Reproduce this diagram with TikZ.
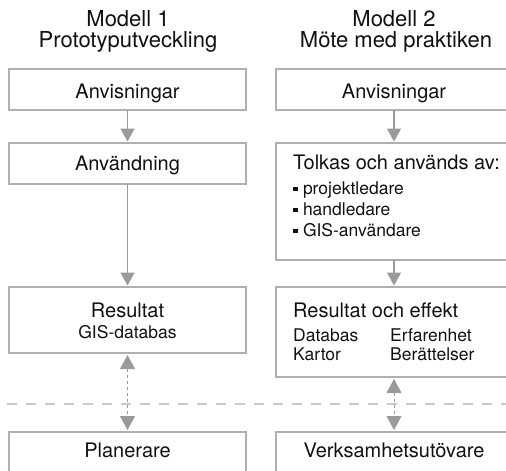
\documentclass[tikz,border=0pt]{standalone}
\usepackage{fontspec}
\setmainfont{TeX Gyre Heros}
\usetikzlibrary{arrows.meta}
\definecolor{boxgray}{HTML}{B0B0B0}
\definecolor{arrgray}{HTML}{9A9A9A}
\definecolor{dashgray}{HTML}{C8C8C8}
\definecolor{txt}{HTML}{111111}
\newcommand{\sqbullet}{\rule[2.6pt]{4.3pt}{4.3pt}\hspace{5.5pt}}
\begin{document}
\begin{tikzpicture}[x=1pt,y=-1pt,
  box/.style={draw=boxgray, line width=1.5pt, inner sep=0pt, outer sep=0pt, anchor=north west},
  lbox/.style={box, minimum width=237pt},
  rbox/.style={box, minimum width=236pt},
  ttl/.style={text=txt, inner sep=0pt, anchor=base, font=\fontsize{22}{26}\selectfont},
  main/.style={text=txt, inner sep=0pt, font=\fontsize{20}{24}\selectfont},
  small/.style={text=txt, inner sep=0pt, font=\fontsize{17.5}{21}\selectfont},
  arr/.style={draw=arrgray, line width=1.5pt, -{Triangle[width=14pt,length=13pt]}, shorten >=1.5pt},
  darr/.style={draw=arrgray, line width=1pt, dash pattern=on 3pt off 3pt,
    {Triangle[width=15pt,length=14pt]}-{Triangle[width=15pt,length=14pt]}, shorten >=2pt, shorten <=2pt},
  sep/.style={draw=dashgray, line width=1.5pt, dash pattern=on 10pt off 9pt}
]
\useasboundingbox (0,0) rectangle (506,471);
\clip (0,0) rectangle (506,471);

% titles
\node[ttl] (t1a) at (128,26) {Modell 1};
\node[ttl] (t1b) at (128,47) {Prototyputveckling};
\node[ttl] (t2a) at (394,26) {Modell 2};
\node[ttl] (t2b) at (396,47) {Möte med praktiken};

% boxes
\node[lbox, minimum height=41pt] (L1) at (9,69) {};
\node[rbox, minimum height=41pt] (R1) at (276,69) {};
\node[lbox, minimum height=41pt] (L2) at (9,143) {};
\node[rbox, minimum height=117pt] (R2) at (276,143) {};
\node[lbox, minimum height=66pt] (L3) at (9,287) {};
\node[rbox, minimum height=90pt] (R3) at (276,287) {};
\node[lbox, minimum height=60pt] (L4) at (9,432) {};
\node[rbox, minimum height=60pt] (R4) at (276,432) {};

% separator
\coordinate (sepA) at (7,404);
\coordinate (sepB) at (506,404);
\draw[sep] (sepA) -- (sepB);

% texts
\node[main, anchor=base] (L1t) at (127.5,98) {Anvisningar};
\node[main, anchor=base] (R1t) at (394,98) {Anvisningar};
\node[main, anchor=base] (L2t) at (127.5,170) {Användning};
\node[main, anchor=base west] (R2t) at (293,169) {Tolkas och används av:};
\node[small, anchor=base west] (R2a) at (293,194) {\sqbullet projektledare};
\node[small, anchor=base west] (R2b) at (293,215) {\sqbullet handledare};
\node[small, anchor=base west] (R2c) at (293,236) {\sqbullet GIS-användare};
\node[main, anchor=base] (L3t) at (127.5,317) {Resultat};
\node[small, anchor=base] (L3s) at (127.5,338) {GIS-databas};
\node[main, anchor=base west] (R3t) at (293,317) {Resultat och effekt};
\node[small, anchor=base west] (R3a) at (293,341) {Databas};
\node[small, anchor=base west] (R3b) at (293,360) {Kartor};
\node[small, anchor=base west] (R3c) at (390,341) {Erfarenhet};
\node[small, anchor=base west] (R3d) at (390,360) {Berättelser};
\node[main, anchor=base] (L4t) at (127.5,457) {Planerare};
\node[main, anchor=base] (R4t) at (394,457) {Verksamhetsutövare};

% connectors
\draw[arr] (L1.south) -- (L2.north);
\draw[arr] (R1.south) -- (R2.north);
\draw[arr] (L2.south) -- (L3.north);
\draw[arr] (R2.south) -- (R3.north);
\draw[darr] (L3.south) -- (L4.north);
\draw[darr] (R3.south) -- (R4.north);
\end{tikzpicture}
\end{document}
